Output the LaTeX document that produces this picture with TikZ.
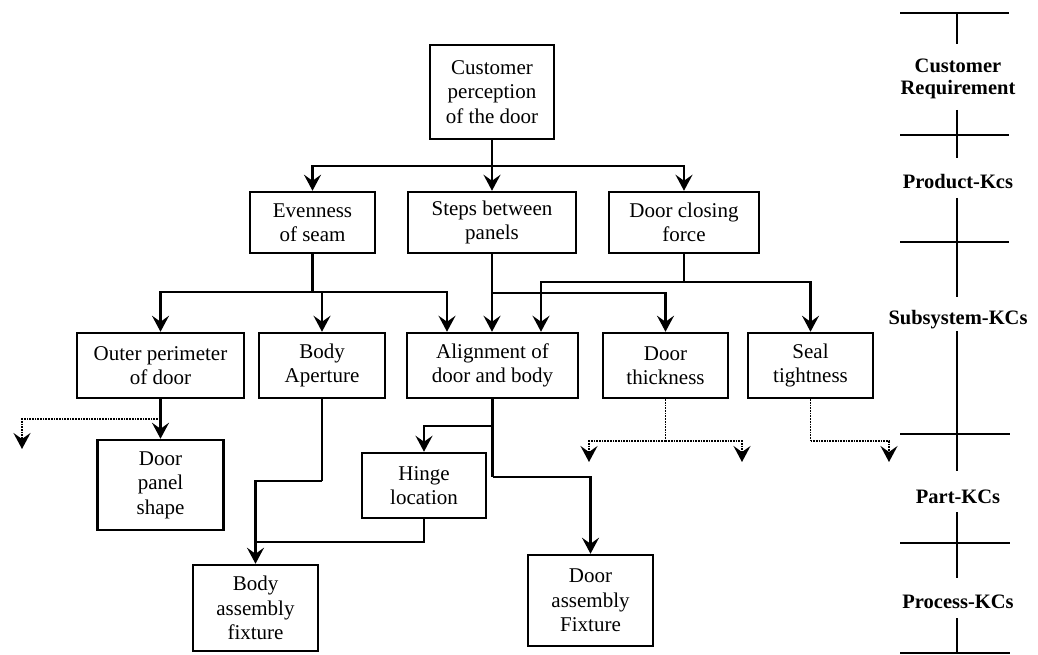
\documentclass[tikz,border=0pt]{standalone}
\usepackage{fontspec}
\setmainfont{Liberation Serif}
\usetikzlibrary{arrows.meta}
\begin{document}
\begin{tikzpicture}[x=1pt,y=-1pt,
  box/.style={draw,line width=2.5pt,inner sep=0pt,align=center,
    font=\fontsize{21}{24.5}\selectfont},
  lab/.style={inner sep=0pt,align=center,font=\bfseries\fontsize{20.5}{22.5}\selectfont},
  con/.style={line width=2.3pt},
  arr/.style={con,-{Stealth[length=16pt,width=17pt,inset=6pt]}},
  dot/.style={line width=1.7pt,densely dotted},
  darr/.style={dot,-{Stealth[length=16pt,width=17pt,inset=6pt]}},
  scl/.style={line width=2.3pt}]
\useasboundingbox (0,0) rectangle (1038,655);
% boxes
\node[box,minimum width=124pt,minimum height=94pt] (cust) at (492,92) {Customer\\perception\\of the door};
\node[box,minimum width=125pt,minimum height=61pt] (even) at (312.5,222.5) {Evenness\\of seam};
\node[box,minimum width=168pt,minimum height=61pt] (steps) at (492,222.5) {Steps between\\panels};
\node[box,minimum width=150pt,minimum height=61pt] (close) at (684,222.5) {Door closing\\force};
\node[box,minimum width=167pt,minimum height=65pt] (outer) at (160.5,365.5) {Outer perimeter\\of door};
\node[box,minimum width=126pt,minimum height=65pt] (body) at (322,365.5) {Body\\Aperture};
\node[box,minimum width=171pt,minimum height=65pt] (align) at (492.5,365.5) {Alignment of\\door and body};
\node[box,minimum width=125pt,minimum height=65pt] (thick) at (665.5,365.5) {Door\\thickness};
\node[box,minimum width=125pt,minimum height=65pt] (seal) at (810.5,365.5) {Seal\\tightness};
\node[box,minimum width=126pt,minimum height=90pt] (panel) at (160.5,485) {Door\\panel\\shape};
\node[box,minimum width=124pt,minimum height=65pt] (hinge) at (424,485.5) {Hinge\\location};
\node[box,minimum width=125pt,minimum height=86pt] (bfix) at (255.5,608) {Body\\assembly\\fixture};
\node[box,minimum width=125pt,minimum height=91pt] (dfix) at (590.5,600.5) {Door\\assembly\\Fixture};
% junction coordinates
\coordinate (j1) at (492,166);
\coordinate (j2) at (312.5,292);
\coordinate (j3) at (492,293);
\coordinate (j4) at (684,282);
\coordinate (j5) at (160.5,419);
\coordinate (j6) at (322,481);
\coordinate (j7) at (424,542);
\coordinate (j8) at (492.5,426);
\coordinate (j9) at (492.5,477);
\coordinate (j10) at (665.5,441);
\coordinate (j11) at (810.5,441);
\coordinate (aL) at ([xshift=-45.5pt]align.north);
\coordinate (aR) at ([xshift=48.5pt]align.north);
\coordinate (d1) at (22,449);
\coordinate (d2) at (589,462);
\coordinate (d3) at (742,462);
\coordinate (d4) at (889,462);
% connectors
\draw[con] (cust.south) -- (j1);
\draw[arr] (j1) -| (even.north);
\draw[arr] (j1) -- (steps.north);
\draw[arr] (j1) -| (close.north);
\draw[con] (even.south) -- (j2);
\draw[arr] (j2) -| (outer.north);
\draw[arr] (j2) -| (body.north);
\draw[arr] (j2) -| (aL);
\draw[arr] (steps.south) -- (steps.south |- align.north);
\draw[arr] (j3) -| (thick.north);
\draw[con] (close.south) -- (j4);
\draw[arr] (j4) -| (aR);
\draw[arr] (j4) -| (seal.north);
\draw[arr] (outer.south) -- (panel.north);
\draw[darr] (j5) -| (d1);
\draw[con] (body.south) -- (j6);
\draw[arr] (j6) -| (bfix.north);
\draw[con] (hinge.south) -- (j7) -| (bfix.north |- j7);
\draw[con] (align.south) -- (j8);
\draw[arr] (j8) -| (hinge.north);
\draw[con] (j8) -- (j9);
\draw[arr] (j9) -| (dfix.north);
\draw[dot] (thick.south) -- (j10);
\draw[darr] (j10) -| (d2);
\draw[darr] (j10) -| (d3);
\draw[dot] (seal.south) -- (j11);
\draw[darr] (j11) -| (d4);
% right scale
\draw[scl] (900,13) -- (1009,13);
\draw[scl] (957,13) -- (957,44);
\node[lab] (lcr) at (958,79) {Customer\\Requirement};
\draw[scl] (957,110) -- (957,158);
\draw[scl] (900,135) -- (1009,135);
\node[lab] (lpk) at (958,182) {Product-Kcs};
\draw[scl] (957,198) -- (957,297);
\draw[scl] (900,242) -- (1009,242);
\node[lab] (lsk) at (958,320) {Subsystem-KCs};
\draw[scl] (957,331) -- (957,471);
\draw[scl] (900,434) -- (1010,434);
\node[lab] (lpa) at (958,497) {Part-KCs};
\draw[scl] (957,512) -- (957,578);
\draw[scl] (900,543) -- (1010,543);
\node[lab] (lpr) at (958,602) {Process-KCs};
\draw[scl] (957,618) -- (957,653);
\draw[scl] (900,653) -- (1010,653);
\end{tikzpicture}
\end{document}
